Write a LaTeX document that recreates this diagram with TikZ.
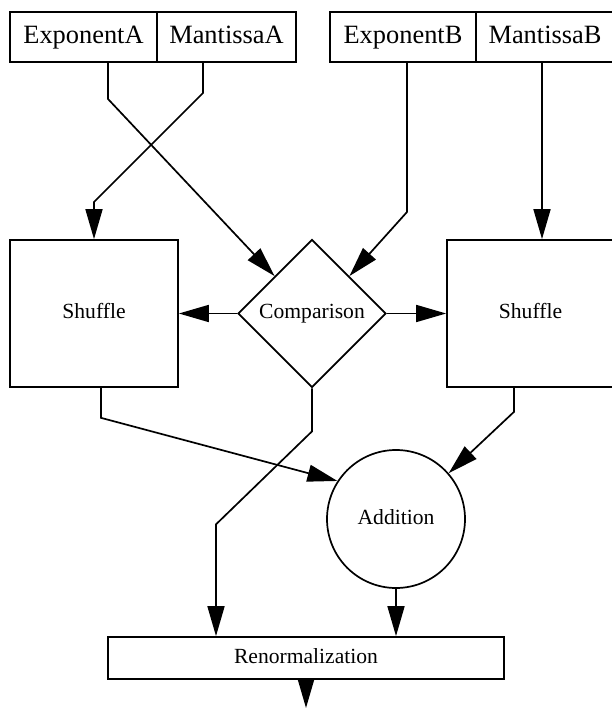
\documentclass[tikz,border=0pt]{standalone}
\usepackage{fontspec}
\setmainfont{Liberation Serif}
\usetikzlibrary{positioning,shapes.geometric,arrows.meta,calc}

\begin{document}
\begin{tikzpicture}[x=0.5pt, y=-0.5pt, line width=0.85pt, >={Triangle[length=15pt,width=8.5pt]},
field/.style = {draw, inner sep=0pt, outer sep=0pt, minimum height=25pt, text height=9.5pt, text depth=3pt, font=\fontsize{13.2}{15}\selectfont},
block/.style = {draw, inner sep=0pt, text height=7.5pt, text depth=2.5pt, font=\fontsize{10.8}{13}\selectfont}]
\useasboundingbox (0,0) rectangle (611,710);
\node[field, minimum width=73.5pt] (ea) at (83.5,37) {ExponentA};
\node[field, minimum width=69.5pt] (ma) [right=0pt of ea] {MantissaA};
\node[field, minimum width=73pt] (eb) at (403,37) {ExponentB};
\node[field, minimum width=69pt] (mb) [right=0pt of eb] {MantissaB};
\node[block, minimum width=84pt, minimum height=73.5pt] (sa) at (94,313.5) {Shuffle};
\node[block, diamond, minimum size=74pt] (cmp) at (312,313.5) {Comparison};
\node[block, minimum width=83.5pt, minimum height=73.5pt] (sb) at (530.5,313.5) {Shuffle};
\node[block, circle, minimum size=69pt] (add) at (396,519) {Addition};
\node[block, minimum width=198pt, minimum height=21pt] (ren) at (306,658) {Renormalization};
\coordinate (out) at (306,708);
\draw[->] ($(ea.south)+(24.5,0)$) -- ++(0,37) -- (cmp.north west);
\draw[->] ($(ma.south)+(-23.5,0)$) -- ++(0,31) -- ++(-109,109) -- (sa.north);
\draw[->] ($(eb.south)+(4,0)$) -- ++(0,150) -- (cmp.north east);
\draw[->] ($(mb.south)+(-3,0)$) -- ($(sb.north)+(11.5,0)$);
\draw[->] (cmp.west) -- (sa.east);
\draw[->] (cmp.east) -- (sb.west);
\draw[->] ($(sa.south)+(7,0)$) -- ++(0,30) -- (add.147);
\draw[->] (cmp.south) -- ++(0,43) -- ++(-96,93) -- ($(ren.north)+(-90,0)$);
\draw[->] ($(sb.south)+(-16.5,0)$) -- ++(0,24) -- (add.41);
\draw[->] (add.south) -- (add.south |- ren.north);
\draw[->] (ren.south) -- (out);
\end{tikzpicture}
\end{document}
